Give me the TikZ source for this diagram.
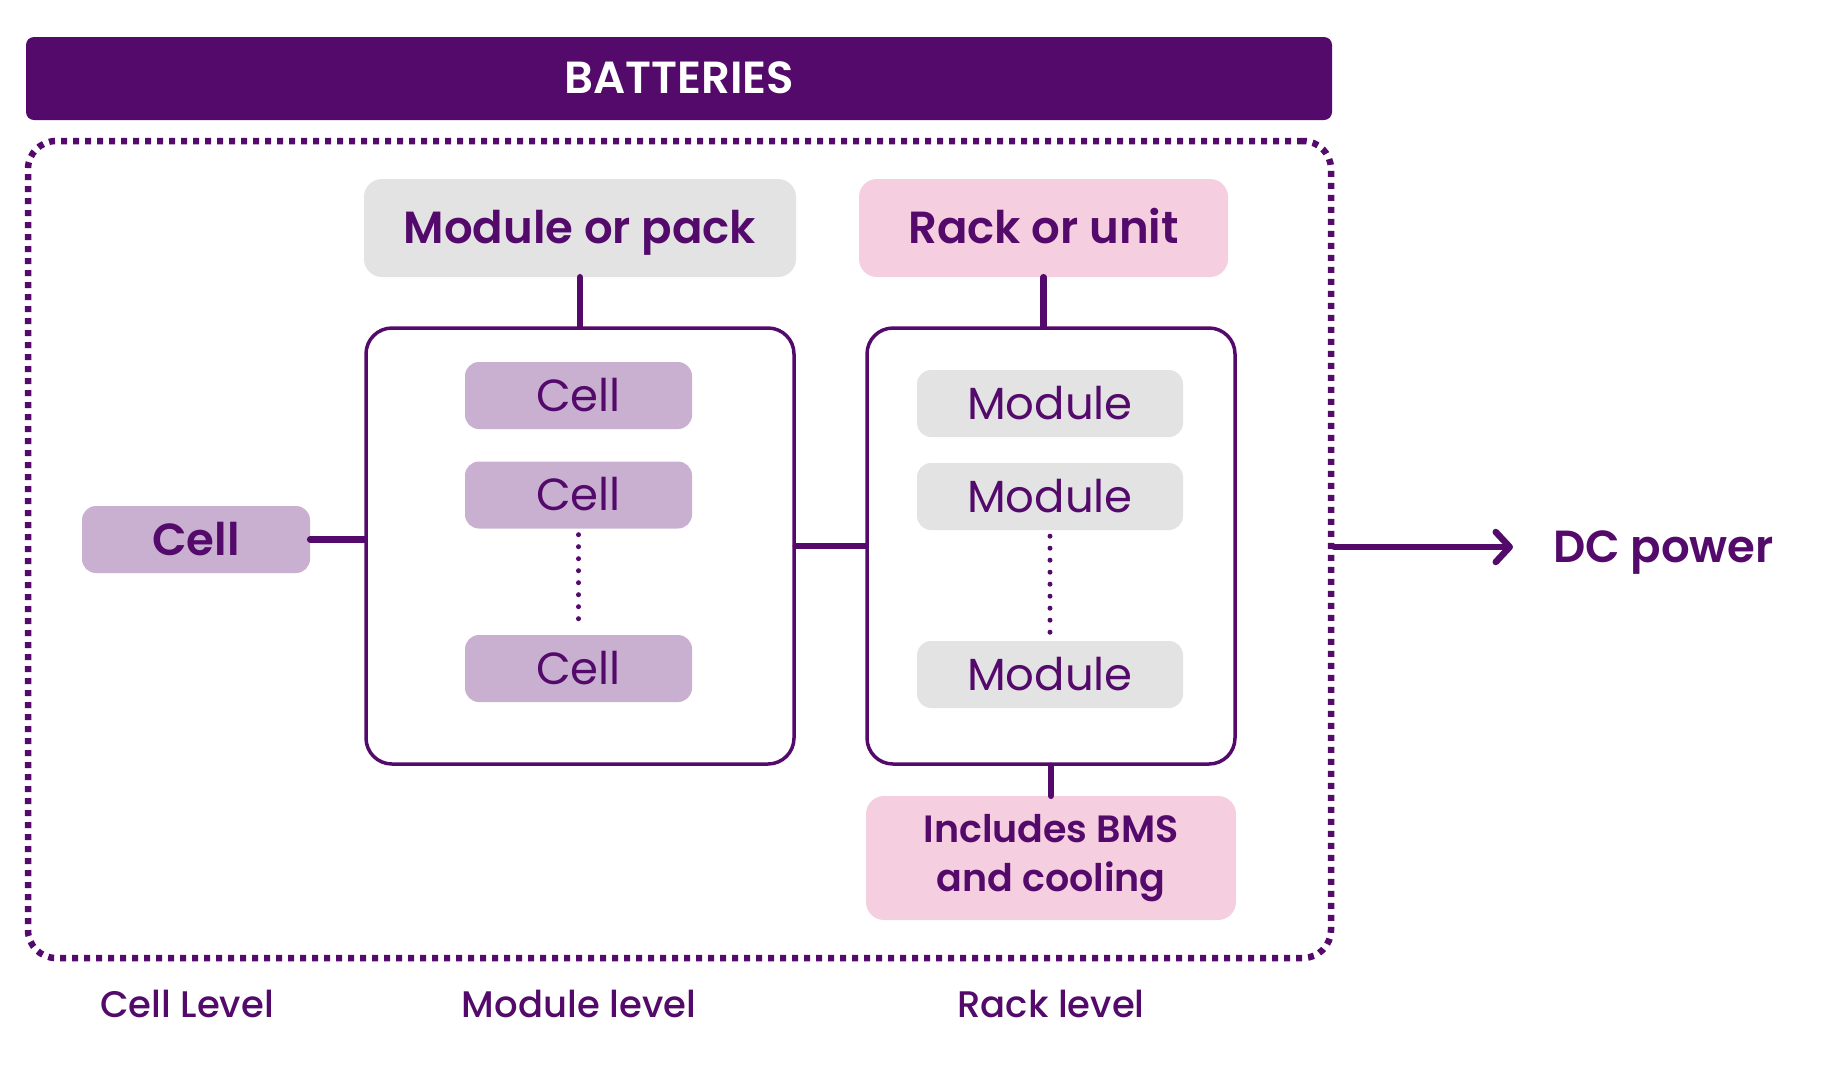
\documentclass[tikz,border=0pt]{standalone}
\usepackage{fontspec}
\setmainfont{Poppins}[BoldFont={Poppins SemiBold}]
\newfontfamily\lvlfamily{Poppins Medium}
\usetikzlibrary{arrows.meta}
\definecolor{batpurple}{HTML}{540A6B}
\definecolor{cellfill}{HTML}{C9B0D1}
\definecolor{modfill}{HTML}{E3E3E3}
\definecolor{rackfill}{HTML}{F5CEE0}
\newcommand{\bigtxt}{\fontsize{45}{52}\selectfont}
\newcommand{\bmstxt}{\fontsize{38}{49}\selectfont}
\newcommand{\lvltxt}{\fontsize{37}{44}\selectfont}

\begin{document}
\begin{tikzpicture}[x=1pt, y=-1pt,
    box/.style={inner sep=0pt, text=batpurple, align=center, font=\bigtxt, text height=31pt, text depth=0pt},
    head/.style={box, rounded corners=18pt, minimum height=98pt, font=\bigtxt\bfseries},
    cellbox/.style={box, fill=cellfill, rounded corners=14pt, minimum width=227pt, minimum height=67pt},
    modbox/.style={box, fill=modfill, rounded corners=14pt, minimum width=266pt, minimum height=67pt},
    group/.style={draw=batpurple, line width=3.5pt, rounded corners=26pt, minimum width=428pt, minimum height=436pt},
    wire/.style={draw=batpurple, line width=6.5pt, line cap=round},
    dots/.style={draw=batpurple, line width=5pt, line cap=round, dash pattern=on 0pt off 12pt},
    lvl/.style={text=batpurple, font=\lvlfamily\lvltxt, inner sep=0pt, text height=26pt, text depth=0pt}]
    \useasboundingbox (0,0) rectangle (1837,1080);

    \node[box, fill=batpurple, text=white, rounded corners=8pt, minimum width=1306pt, minimum height=83pt, font=\bigtxt\bfseries, text height=30pt] (title) at (679,78.5) {BATTERIES};
    \node[draw=batpurple, line width=6.5pt, dash pattern=on 6pt off 6pt, rounded corners=28pt, minimum width=1303pt, minimum height=817pt] (frame) at (679.5,549.5) {};

    \node[head, fill=modfill, minimum width=432pt] (packhead) at (580,228) {Module or pack};
    \node[head, fill=rackfill, minimum width=369pt] (rackhead) at (1043.5,228) {Rack or unit};

    \node[group] (packbox) at (580,546) {};
    \node[group, minimum width=368pt] (rackbox) at (1051,546) {};

    \node[cellbox] (cell1) at (578.5,395.5) {Cell};
    \node[cellbox] (cell2) at (578.5,495) {Cell};
    \node[cellbox] (cell3) at (578.5,668.5) {Cell};

    \node[modbox] (mod1) at (1050,403.5) {Module};
    \node[modbox] (mod2) at (1050,496.5) {Module};
    \node[modbox] (mod3) at (1050,674.5) {Module};

    \node[cellbox, minimum width=228pt, font=\bigtxt\bfseries] (cell) at (196,539.5) {Cell};
    \node[box, fill=rackfill, rounded corners=18pt, minimum width=370pt, minimum height=124pt, font=\bmstxt\bfseries, text height=, text depth=] (bms) at (1051,858) {Includes BMS\\and cooling};
    \node[box, anchor=west, font=\bigtxt\bfseries] (dc) at (1553,547) {DC power};

    \node[lvl] (celllvl) at (187,1004) {Cell Level};
    \node[lvl] (packlvl) at (579,1004) {Module level};
    \node[lvl] (racklvl) at (1051,1004) {Rack level};

    \draw[wire] (packhead.south) -- (packbox.north);
    \draw[wire] (rackhead.south) -- (rackhead.south |- rackbox.north);
    \draw[wire] (cell.east) -- (cell.east -| packbox.west);
    \draw[wire] (packbox.east) -- (rackbox.west);
    \draw[wire] (rackbox.south) -- (bms.north);
    \draw[dots, shorten <=6pt, shorten >=14pt] (cell2.south) -- (cell3.north);
    \draw[dots, shorten <=6pt, shorten >=6pt] (mod2.south) -- (mod3.north);
    \draw[wire, shorten >=40pt, -{Straight Barb[length=14pt, width=30pt, round]}] (dc.west -| frame.east) -- (dc.west);
\end{tikzpicture}
\end{document}
